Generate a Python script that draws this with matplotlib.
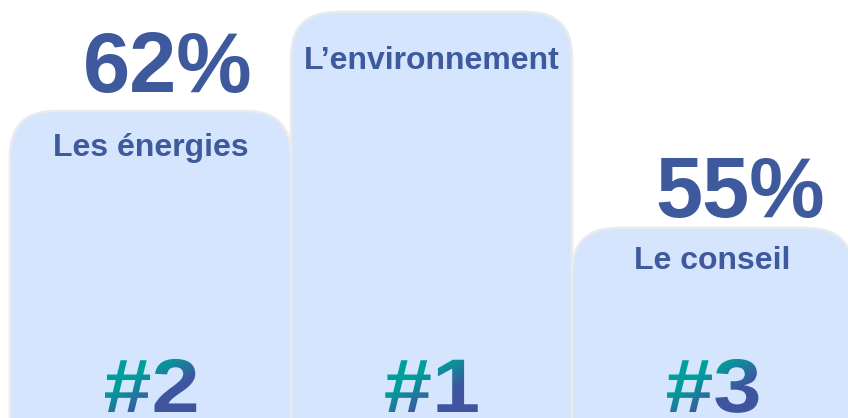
import numpy as np
import matplotlib
matplotlib.use("Agg")
import matplotlib.pyplot as plt
from matplotlib.patches import FancyBboxPatch, PathPatch
from matplotlib.textpath import TextPath
from matplotlib.font_manager import FontProperties
from matplotlib.transforms import Affine2D, IdentityTransform
from matplotlib.colors import LinearSegmentedColormap

# podium data (left to right)
ranks = ["#2", "#1", "#3"]
themes = ["Les énergies", "L\u2019environnement", "Le conseil"]
percents = ["62%", "", "55%"]
podium_heights = [307, 406, 190]

# styling
FILL = "#d4e5fd"
EDGE = "#ebebeb"
TEXT_BLUE = "#3f5a9c"
TEAL = "#009e9a"
DEEP_BLUE = "#3f559f"
BAR_PX = 281
LABEL_DROP = [37, 49, 33]
PCT_DX = [17, 0, 28]
PCT_RISE = [19, 0, 11]

fig = plt.figure(figsize=(8.48, 4.18), dpi=100)
ax = fig.add_axes([0, 0, 1, 1])
left = -0.5 - 10 / BAR_PX
ax.set_xlim(left, left + 848 / BAR_PX)
ax.set_ylim(0, 418)
ax.axis("off")

x = np.arange(len(ranks))
bars = ax.bar(x, podium_heights, width=1, color="none")

for rect in bars:
    bx, w, h = rect.get_x(), rect.get_width(), rect.get_height()
    box = FancyBboxPatch((bx, -80), w, h + 80,
                         boxstyle=f"round,pad=0,rounding_size={45 / BAR_PX}",
                         mutation_aspect=BAR_PX,
                         facecolor=FILL, edgecolor=EDGE, linewidth=1.8, zorder=2)
    ax.add_patch(box)

for i, (theme, pct, h) in enumerate(zip(themes, percents, podium_heights)):
    ax.text(x[i], h - LABEL_DROP[i], theme, ha="center", va="center",
            fontsize=23, fontweight="bold", color=TEXT_BLUE,
            family="Liberation Sans", zorder=3)
    if pct:
        ax.text(x[i] + PCT_DX[i] / BAR_PX, h + PCT_RISE[i], pct,
                ha="center", va="baseline", fontsize=61, fontweight="bold",
                color=TEXT_BLUE, family="Liberation Sans", zorder=3)

# gradient rank labels: teal at top-left, blue towards bottom-right
cmap = LinearSegmentedColormap.from_list("grad", [TEAL, TEAL, DEEP_BLUE, DEEP_BLUE])
fp = FontProperties(family="Liberation Sans", weight="bold")
gy, gx = np.mgrid[0:1:100j, 0:1:100j]
grad = (gx + gy) / 2
fig.canvas.draw()
for i, rank in enumerate(ranks):
    tp = TextPath((0, 0), rank, size=76, prop=fp)
    tp = Affine2D().scale(1.14, 1).transform_path(tp)
    ext = tp.get_extents()
    cx, cy = ax.transData.transform((x[i], 6))
    tr = Affine2D().translate(cx - (ext.x0 + ext.x1) / 2, cy)
    path = tr.transform_path(tp)
    pe = path.get_extents()
    (x0, y0) = ax.transData.inverted().transform((pe.x0, pe.y0))
    (x1, y1) = ax.transData.inverted().transform((pe.x1, pe.y1))
    im = ax.imshow(grad, cmap=cmap, extent=(x0, x1, y0, y1),
                   origin="upper", aspect="auto", zorder=4, interpolation="bilinear")
    clip = PathPatch(path, transform=IdentityTransform(), facecolor="none", edgecolor="none")
    im.set_clip_path(clip)

ax.set_xlim(left, left + 848 / BAR_PX)
ax.set_ylim(0, 418)

fig.savefig("out.png", dpi=100)
